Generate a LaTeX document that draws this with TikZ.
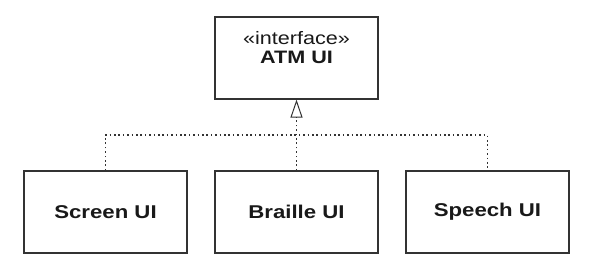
\documentclass[tikz,border=0pt]{standalone}
\usepackage{fontspec}
\setmainfont{Liberation Sans}
\newfontfamily\umlfont[FakeStretch=1.2]{Liberation Sans}
\usetikzlibrary{arrows.meta,positioning}
\begin{document}
\begin{tikzpicture}[
        x=1pt, y=1pt,
        classbox/.style={rectangle, draw=black!80, line width=1.1pt, minimum width=163pt, minimum height=82pt, inner sep=0pt},
        classname/.style={font=\umlfont\fontsize{18.5}{22}\selectfont\bfseries, text=black!90},
        stereo/.style={font=\umlfont\fontsize{18}{21}\selectfont, text=black!90, align=center},
        realize/.style={draw=black!80, line width=1.3pt, dash pattern=on 1.6pt off 2.8pt},
        hollow/.style={-{Triangle[open, length=18pt, width=12pt, line width=1pt]}}
    ]
        \useasboundingbox (0,0) rectangle (596,272);

        % Interface en haut
        \node[classbox] (atm) at (296.5,214) {};
        \node[stereo, below=11pt of atm.north] (atmlabel) {«interface»\\[-2pt]\textbf{ATM UI}};

        % Les trois realisations
        \node[classbox, classname] (screen) at (105.5,60) {Screen UI};
        \node[classbox, classname] (braille) at (296.5,60) {Braille UI};
        \node[classbox, classname] (speech) at (487.5,60) {Speech UI};

        % Lignes pointillees
        \coordinate (join) at (296.5,137);
        \draw[realize] (screen.north) |- (join) -| (speech.north);
        \draw[realize, hollow] (braille.north) -- (atm.south);
    \end{tikzpicture}
\end{document}
